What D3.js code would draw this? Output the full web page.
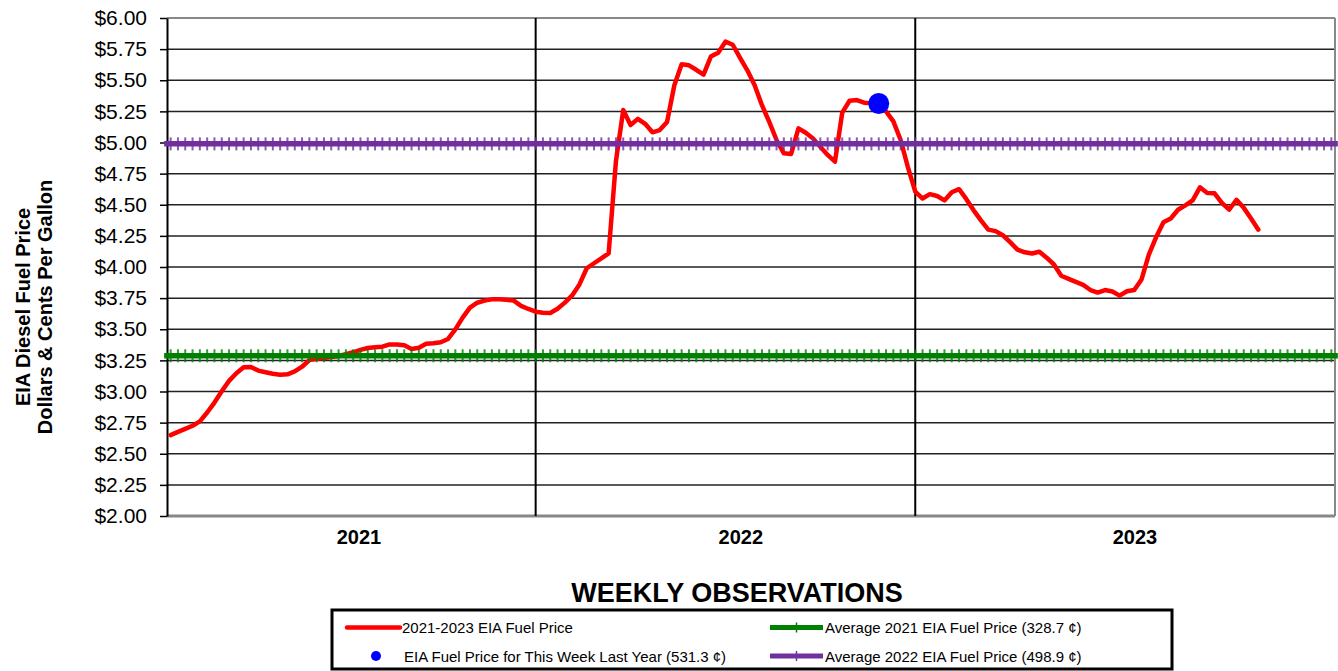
<!DOCTYPE html>
<html>
<head>
<meta charset="utf-8">
<script src="https://cdn.jsdelivr.net/npm/d3@7"></script>
<style>
  body { margin: 0; background: #fff; }
  svg { display: block; font-family: "Liberation Sans", Arial, sans-serif; }
</style>
</head>
<body>
<div id="chart"></div>
<script>
// DATA ######################################################

// weekly EIA diesel price, $ per gallon, 2021 -> 2023
const prices = [
  2.65, 2.676, 2.70, 2.725, 2.76, 2.831, 2.911, 3.002, 3.085, 3.147,
  3.195, 3.197, 3.168, 3.155, 3.143, 3.134, 3.138, 3.161, 3.199, 3.252,
  3.262, 3.268, 3.277, 3.285, 3.30, 3.315, 3.334, 3.349, 3.355, 3.36,
  3.378, 3.377, 3.371, 3.342, 3.352, 3.383, 3.387, 3.396, 3.422, 3.499,
  3.593, 3.674, 3.713, 3.73, 3.74, 3.74, 3.737, 3.73, 3.688, 3.663,
  3.641, 3.632, 3.631, 3.664, 3.714, 3.772, 3.86, 3.99, 4.03, 4.07,
  4.11, 4.85, 5.261, 5.14, 5.19, 5.15, 5.082, 5.10, 5.165, 5.46,
  5.628, 5.62, 5.584, 5.545, 5.69, 5.721, 5.81, 5.785, 5.68, 5.58,
  5.46, 5.30, 5.165, 5.02, 4.913, 4.908, 5.114, 5.078, 5.032, 4.965,
  4.90, 4.846, 5.24, 5.335, 5.341, 5.32, 5.315, 5.313, 5.25, 5.17,
  5.02, 4.80, 4.605, 4.55, 4.585, 4.57, 4.535, 4.60, 4.625, 4.545,
  4.455, 4.375, 4.30, 4.288, 4.255, 4.20, 4.14, 4.118, 4.108, 4.122,
  4.075, 4.02, 3.93, 3.905, 3.88, 3.857, 3.815, 3.795, 3.815, 3.803,
  3.77, 3.805, 3.815, 3.90, 4.10, 4.24, 4.36, 4.39, 4.46, 4.495,
  4.535, 4.64, 4.595, 4.592, 4.515, 4.46, 4.54, 4.475, 4.39, 4.30
];

const weekSlots = 160;          // category slots on the x axis
const avg2021 = 3.287;
const avg2022 = 4.989;
const lastYearPrice = 5.313;
const lastYearWeek = prices.length - 1 - 52;

const yTicks = [2, 2.25, 2.5, 2.75, 3, 3.25, 3.5, 3.75, 4, 4.25, 4.5, 4.75, 5, 5.25, 5.5, 5.75, 6];
const years = ["2021", "2022", "2023"];
const yearLabelWeek = [25.8, 78.1, 132.1];
const yearBreakWeek = [50, 102];

const legendLabels = [
  "2021-2023 EIA Fuel Price",
  "EIA Fuel Price for This Week Last Year (531.3 \u00a2)",
  "Average 2021 EIA Fuel Price (328.7 \u00a2)",
  "Average 2022 EIA Fuel Price (498.9 \u00a2)"
];

// CONSTANTS #################################################
const width = 1338, height = 671;
const plotLeft = 167, plotRight = 1335, plotTop = 18, plotBottom = 516;

const RED = "#ff0000", BLUE = "#0000ff", GREEN = "#008000", PURPLE = "#7030a0";

// SCALES ====================================================
const x = d3.scaleLinear().domain([-0.5, weekSlots - 0.5]).range([plotLeft, plotRight]);
const y = d3.scaleLinear().domain([2, 6]).range([plotBottom, plotTop]);

const svg = d3.select("#chart").append("svg")
    .attr("width", width)
    .attr("height", height);

// GRID ------------------------------------------------------
svg.append("g")
  .selectAll("line")
  .data(yTicks.filter(d => d > 2 && d < 6))
  .join("line")
    .attr("x1", plotLeft).attr("x2", plotRight)
    .attr("y1", d => y(d)).attr("y2", d => y(d))
    .attr("stroke", "#222")
    .attr("stroke-width", 1.5);

// top / right / bottom frame
svg.append("line")
    .attr("x1", plotLeft).attr("x2", plotRight).attr("y1", y(6)).attr("y2", y(6))
    .attr("stroke", "#888").attr("stroke-width", 2);
svg.append("line")
    .attr("x1", plotRight).attr("x2", plotRight).attr("y1", plotTop).attr("y2", plotBottom)
    .attr("stroke", "#888").attr("stroke-width", 2);
svg.append("line")
    .attr("x1", plotLeft).attr("x2", plotRight).attr("y1", y(2)).attr("y2", y(2))
    .attr("stroke", "#888").attr("stroke-width", 3);

// year dividers
svg.append("g")
  .selectAll("line")
  .data(yearBreakWeek)
  .join("line")
    .attr("x1", d => x(d)).attr("x2", d => x(d))
    .attr("y1", plotTop).attr("y2", plotBottom)
    .attr("stroke", "#000")
    .attr("stroke-width", 2);

// Y AXIS ----------------------------------------------------
const yAxis = svg.append("g")
    .attr("transform", `translate(${plotLeft},0)`)
    .call(d3.axisLeft(y)
      .tickValues(yTicks)
      .tickSize(7)
      .tickSizeOuter(0)
      .tickPadding(13)
      .tickFormat(d => "$" + d.toFixed(2)));
yAxis.select(".domain").attr("stroke", "#000").attr("stroke-width", 2);
yAxis.selectAll(".tick line").attr("stroke", "#000").attr("stroke-width", 1.5);
yAxis.selectAll(".tick text")
    .style("font-size", "21px")
    .style("font-family", "'Liberation Sans', Arial, sans-serif")
    .attr("fill", "#000");

// axis titles
const yTitle = svg.append("text")
    .attr("transform", "translate(30,307) rotate(-90)")
    .attr("text-anchor", "middle")
    .style("font-size", "20px")
    .style("font-weight", "bold");
yTitle.append("tspan").attr("x", 0).attr("y", 0).text("EIA Diesel Fuel Price");
yTitle.append("tspan").attr("x", 0).attr("y", 22).text("Dollars & Cents Per Gallon");

svg.append("g")
  .selectAll("text")
  .data(years)
  .join("text")
    .attr("x", (d, i) => x(yearLabelWeek[i]))
    .attr("y", 544)
    .attr("text-anchor", "middle")
    .style("font-size", "20px")
    .style("font-weight", "bold")
    .text(d => d);

svg.append("text")
    .attr("x", 737)
    .attr("y", 602)
    .attr("text-anchor", "middle")
    .style("font-size", "27px")
    .style("font-weight", "bold")
    .text("WEEKLY OBSERVATIONS");

// PRICE LINE ================================================
const line = d3.line()
    .x((d, i) => x(i))
    .y(d => y(d));

svg.append("path")
    .datum(prices)
    .attr("d", line)
    .attr("fill", "none")
    .attr("stroke", RED)
    .attr("stroke-width", 4.5)
    .attr("stroke-linejoin", "round")
    .attr("stroke-linecap", "round");

// AVERAGE LINES (with + markers) ----------------------------
function averageLine(value, color) {
  const g = svg.append("g");
  g.append("line")
      .attr("x1", x(0) - 6.5).attr("x2", x(weekSlots - 1) + 6.5)
      .attr("y1", y(value)).attr("y2", y(value))
      .attr("stroke", color)
      .attr("stroke-width", 5.5);
  g.selectAll("line.tick")
    .data(d3.range(weekSlots))
    .join("line")
      .attr("class", "tick")
      .attr("x1", d => x(d)).attr("x2", d => x(d))
      .attr("y1", y(value) - 6.5).attr("y2", y(value) + 6.5)
      .attr("stroke", color)
      .attr("stroke-opacity", 0.8)
      .attr("stroke-width", 2);
}
averageLine(avg2021, GREEN);
averageLine(avg2022, PURPLE);

// last year marker
svg.append("circle")
    .attr("cx", x(lastYearWeek))
    .attr("cy", y(lastYearPrice))
    .attr("r", 10.5)
    .attr("fill", BLUE);

// LEGEND ####################################################
const legend = svg.append("g");
legend.append("rect")
    .attr("x", 332).attr("y", 610)
    .attr("width", 840).attr("height", 59)
    .attr("fill", "#fff")
    .attr("stroke", "#000")
    .attr("stroke-width", 3);

const rowY = [627.5, 656];

legend.append("line")
    .attr("x1", 347).attr("x2", 400).attr("y1", rowY[0]).attr("y2", rowY[0])
    .attr("stroke", RED).attr("stroke-width", 4.5).attr("stroke-linecap", "round");
legend.append("circle")
    .attr("cx", 376).attr("cy", rowY[1]).attr("r", 5)
    .attr("fill", BLUE);

[GREEN, PURPLE].forEach((c, i) => {
  legend.append("line")
      .attr("x1", 770).attr("x2", 823).attr("y1", rowY[i]).attr("y2", rowY[i])
      .attr("stroke", c).attr("stroke-width", 5);
  legend.append("line")
      .attr("x1", 796.5).attr("x2", 796.5).attr("y1", rowY[i] - 5).attr("y2", rowY[i] + 5)
      .attr("stroke", c).attr("stroke-width", 1.5);
});

const legendPos = [[402, rowY[0]], [404, rowY[1]], [825, rowY[0]], [825, rowY[1]]];
legend.selectAll("text")
  .data(legendLabels)
  .join("text")
    .attr("x", (d, i) => legendPos[i][0])
    .attr("y", (d, i) => legendPos[i][1] + 5.5)
    .style("font-size", "15px")
    .text(d => d);
</script>
</body>
</html>
